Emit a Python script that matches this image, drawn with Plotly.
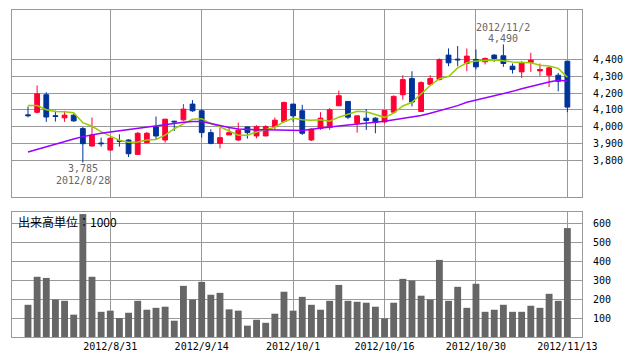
import plotly.graph_objects as go

dates = ["2012/8/20", "2012/8/21", "2012/8/22", "2012/8/23", "2012/8/24", "2012/8/27", "2012/8/28", "2012/8/29", "2012/8/30", "2012/8/31",
         "2012/9/3", "2012/9/4", "2012/9/5", "2012/9/6", "2012/9/7", "2012/9/10", "2012/9/11", "2012/9/12", "2012/9/13", "2012/9/14",
         "2012/9/18", "2012/9/19", "2012/9/20", "2012/9/21", "2012/9/24", "2012/9/25", "2012/9/26", "2012/9/27", "2012/9/28", "2012/10/1",
         "2012/10/2", "2012/10/3", "2012/10/4", "2012/10/5", "2012/10/9", "2012/10/10", "2012/10/11", "2012/10/12", "2012/10/15", "2012/10/16",
         "2012/10/17", "2012/10/18", "2012/10/19", "2012/10/22", "2012/10/23", "2012/10/24", "2012/10/25", "2012/10/26", "2012/10/29", "2012/10/30",
         "2012/10/31", "2012/11/1", "2012/11/2", "2012/11/5", "2012/11/6", "2012/11/7", "2012/11/8", "2012/11/9", "2012/11/12", "2012/11/13"]

opens = [4070, 4085, 4190, 4065, 4052, 4068, 3988, 3884, 3902, 3860,
         3916, 3920, 3834, 3904, 3998, 3920, 4032, 4040, 4134, 4094,
         3964, 3900, 3950, 3920, 3998, 3944, 3944, 4000, 4030, 4134,
         4094, 3920, 3990, 3994, 4124, 4150, 4020, 4050, 4050, 4028,
         4086, 4190, 4286, 4090, 4252, 4280, 4426, 4402, 4376, 4400,
         4386, 4426, 4422, 4360, 4326, 4382, 4332, 4306, 4306, 4390]
highs = [4120, 4245, 4205, 4095, 4094, 4074, 3998, 4054, 3934, 3938,
         3954, 3924, 3968, 3968, 4060, 4046, 4034, 4134, 4158, 4104,
         3984, 3994, 3994, 4024, 4000, 4008, 4008, 4054, 4148, 4134,
         4130, 3990, 4086, 4110, 4214, 4150, 4064, 4104, 4056, 4096,
         4186, 4306, 4330, 4270, 4306, 4406, 4466, 4480, 4466, 4460,
         4412, 4432, 4490, 4376, 4390, 4440, 4376, 4356, 4320, 4390]
lows = [4055, 4078, 4028, 4030, 4028, 4028, 3785, 3880, 3880, 3858,
        3880, 3818, 3834, 3900, 3920, 3904, 3974, 4034, 4088, 3934,
        3894, 3870, 3950, 3914, 3928, 3930, 3944, 3984, 4024, 4028,
        3950, 3914, 3980, 3980, 4124, 4044, 3964, 3980, 3960, 4020,
        4086, 4160, 4120, 4090, 4246, 4276, 4360, 4360, 4330, 4340,
        4370, 4386, 4356, 4316, 4290, 4326, 4302, 4236, 4210, 4086]
closes = [4065, 4195, 4057, 4060, 4068, 4034, 3898, 3950, 3898, 3930,
          3912, 3838, 3960, 3960, 3944, 4044, 4028, 4104, 4094, 3964,
          3900, 3934, 3964, 3978, 3964, 4000, 4000, 4038, 4144, 4064,
          3960, 3984, 4050, 4100, 4184, 4056, 4064, 4036, 4024, 4096,
          4180, 4280, 4146, 4262, 4286, 4400, 4380, 4398, 4420, 4356,
          4406, 4406, 4376, 4340, 4380, 4396, 4340, 4350, 4270, 4116]

ma_short = [4125, 4125, 4100, 4090, 4089, 4083, 4023, 4002, 3970, 3942,
            3918, 3906, 3908, 3920, 3923, 3949, 3987, 4016, 4043, 4047,
            4018, 3999, 3971, 3948, 3948, 3968, 3981, 3996, 4029, 4049,
            4041, 4038, 4040, 4032, 4056, 4075, 4091, 4088, 4073, 4055,
            4080, 4123, 4145, 4193, 4245, 4285, 4298, 4350, 4380, 4391,
            4392, 4397, 4393, 4385, 4382, 4380, 4366, 4361, 4347, 4294]
ma_long = [3848, 3864, 3882, 3898, 3912, 3926, 3940, 3952, 3960, 3968,
           3975, 3982, 3990, 3998, 4006, 4014, 4020, 4026, 4030, 4030,
           4018, 4004, 3994, 3986, 3982, 3981, 3981, 3980, 3978, 3977,
           3976, 3984, 3992, 3998, 4004, 4010, 4014, 4020, 4026, 4032,
           4040, 4046, 4054, 4066, 4080, 4094, 4108, 4125, 4145, 4158,
           4170, 4182, 4196, 4210, 4226, 4240, 4254, 4266, 4276, 4272]

volume = [170, 318, 312, 198, 191, 118, 649, 318, 133, 139,
          100, 128, 191, 144, 154, 160, 86, 270, 198, 291,
          223, 233, 146, 139, 60, 91, 75, 123, 239, 139,
          212, 170, 144, 191, 275, 191, 186, 181, 160, 98,
          181, 307, 298, 218, 198, 407, 191, 265, 154, 281,
          133, 144, 170, 133, 133, 165, 154, 228, 191, 575]

date_ticks = ["2012/8/31", "2012/9/14", "2012/10/1", "2012/10/16", "2012/10/30", "2012/11/13"]
price_ticks = [3800, 3900, 4000, 4100, 4200, 4300, 4400]
volume_ticks = [100, 200, 300, 400, 500, 600]

RED = "#ff0033"
BLUE = "#003399"
GRID = "#999999"
MONO = "DejaVu Sans Mono"

fig = go.Figure()
fig.add_trace(go.Candlestick(
    x=dates, open=opens, high=highs, low=lows, close=closes,
    xaxis="x2", yaxis="y2", whiskerwidth=0,
    increasing=dict(line=dict(color=RED, width=1), fillcolor=RED),
    decreasing=dict(line=dict(color=BLUE, width=1), fillcolor=BLUE),
    showlegend=False, hoverinfo="skip"))
fig.add_trace(go.Scatter(x=dates, y=ma_short, xaxis="x2", yaxis="y2", mode="lines",
                         line=dict(color="#99cc00", width=1.5), showlegend=False, hoverinfo="skip"))
fig.add_trace(go.Scatter(x=dates, y=ma_long, xaxis="x2", yaxis="y2", mode="lines",
                         line=dict(color="#9900ff", width=1.5), showlegend=False, hoverinfo="skip"))
fig.add_trace(go.Bar(x=dates, y=volume, xaxis="x", yaxis="y", width=0.75,
                     marker=dict(color="#666666", line=dict(width=0)), showlegend=False, hoverinfo="skip"))

xcommon = dict(type="category", categoryorder="array", categoryarray=dates,
               range=[-1.75, 60.6], tickvals=date_ticks, showgrid=True, gridcolor=GRID, gridwidth=1,
               showline=True, linecolor=GRID, linewidth=1, mirror=True, zeroline=False, ticks="",
               automargin=False, fixedrange=True)
ycommon = dict(side="right", showgrid=True, gridcolor=GRID, gridwidth=1, showline=True, linecolor=GRID,
               linewidth=1, mirror=True, zeroline=False, ticks="", ticklabelstandoff=8,
               automargin=False, fixedrange=True, tickfont=dict(family=MONO, size=10, color="#000000"))

fig.update_layout(
    width=638, height=362,
    margin=dict(l=12, r=56, t=10, b=25),
    paper_bgcolor="white", plot_bgcolor="white",
    showlegend=False, boxgap=0.25,
    xaxis=dict(xcommon, domain=[0, 1], anchor="y", showticklabels=True,
               tickfont=dict(family=MONO, size=10, color="#000000")),
    xaxis2=dict(xcommon, domain=[0, 1], anchor="y2", showticklabels=False, rangeslider=dict(visible=False)),
    yaxis=dict(ycommon, domain=[0, 0.3823], range=[0, 660], tickvals=volume_ticks, anchor="x"),
    yaxis2=dict(ycommon, domain=[0.4281, 1], range=[3580, 4695], tickvals=price_ticks,
                tickformat=",d", anchor="x2"),
    annotations=[
        dict(text="2012/11/2", x="2012/11/2", y=4593, xref="x2", yref="y2", showarrow=False,
             font=dict(family=MONO, size=10, color="#666666")),
        dict(text="4,490", x="2012/11/2", y=4528, xref="x2", yref="y2", showarrow=False,
             font=dict(family=MONO, size=10, color="#666666")),
        dict(text="3,785", x="2012/8/28", y=3749, xref="x2", yref="y2", showarrow=False,
             font=dict(family=MONO, size=10, color="#666666")),
        dict(text="2012/8/28", x="2012/8/28", y=3677, xref="x2", yref="y2", showarrow=False,
             font=dict(family=MONO, size=10, color="#666666")),
        dict(text="出来高単位：1000", x=0.007, y=0.3517, xref="paper", yref="paper",
             xanchor="left", yanchor="middle", showarrow=False,
             font=dict(family="Noto Sans CJK JP", size=12, color="#000000")),
    ],
)

fig.write_html("out.html", config={"displayModeBar": False},
               post_script="document.body.style.margin='0';document.body.style.padding='0';")
